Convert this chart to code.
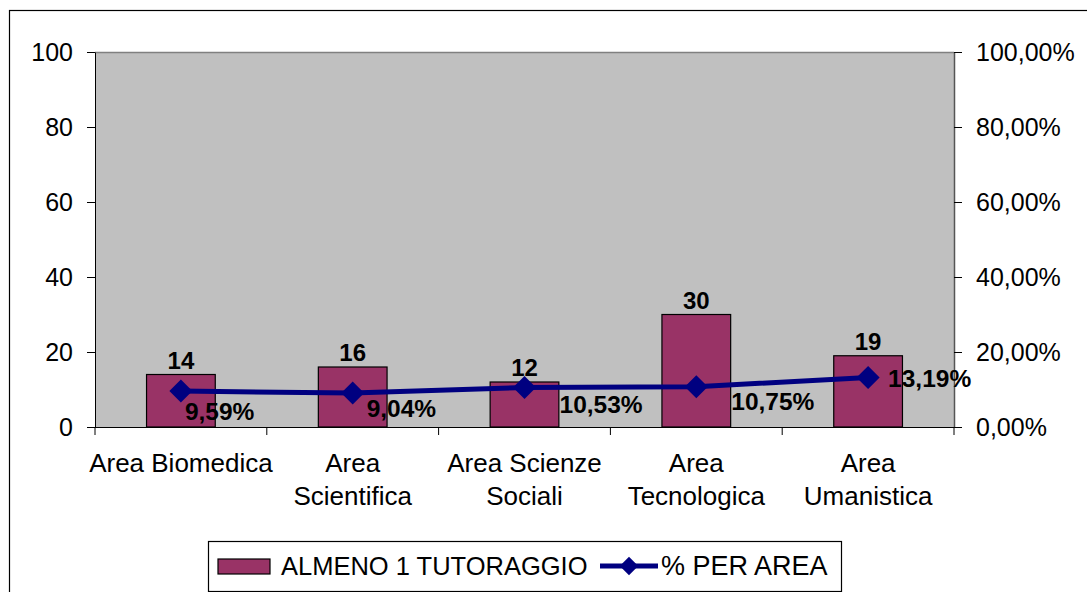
<!doctype html>
<html>
    <head>
        <script src="https://d3js.org/d3.v7.min.js"></script>
        <style>
            body,
            html {
                margin: 0;
                padding: 0;
                overflow: hidden;
                background: #fff;
            }
            text {
                font-family: "Liberation Sans", Arial, sans-serif;
            }
        </style>
    </head>
    <body>
        <script>
            const categories = [
                ["Area Biomedica"],
                ["Area", "Scientifica"],
                ["Area Scienze", "Sociali"],
                ["Area", "Tecnologica"],
                ["Area", "Umanistica"],
            ];
            const tutoraggio = [14, 16, 12, 30, 19];
            const perArea = [0.0959, 0.0904, 0.1053, 0.1075, 0.1319];
            const leftTicks = [0, 20, 40, 60, 80, 100];
            const rightTicks = [0, 0.2, 0.4, 0.6, 0.8, 1];
            const seriesNames = ["ALMENO 1 TUTORAGGIO", "% PER AREA"];

            // label offsets from the marker (moved by hand in the original)
            const pctLabelOffsets = [
                [4, 20],
                [14, 15],
                [35, 17],
                [35, 15],
                [20, 1],
            ];

            const width = 1087;
            const height = 592;
            const plot = { left: 95, right: 954, top: 52, bottom: 427 };
            const fmtPct = (d) => (d * 100).toFixed(2).replace(".", ",") + "%";

            const svg = d3
                .create("svg")
                .attr("width", width)
                .attr("height", height);

            svg.append("rect")
                .attr("x", 9.5)
                .attr("y", 10.5)
                .attr("width", 1090)
                .attr("height", 600)
                .attr("fill", "#fff")
                .attr("stroke", "#000")
                .attr("stroke-width", 1.2);

            const x = d3
                .scaleBand()
                .domain(d3.range(categories.length))
                .range([plot.left, plot.right])
                .paddingInner(0.6)
                .paddingOuter(0.3);
            const xOuter = d3
                .scaleBand()
                .domain(d3.range(categories.length))
                .range([plot.left, plot.right]);
            const y = d3
                .scaleLinear()
                .domain([0, 100])
                .range([plot.bottom, plot.top]);
            const y2 = d3
                .scaleLinear()
                .domain([0, 1])
                .range([plot.bottom, plot.top]);

            // plot background
            svg.append("rect")
                .attr("x", plot.left)
                .attr("y", plot.top)
                .attr("width", plot.right - plot.left)
                .attr("height", plot.bottom - plot.top)
                .attr("fill", "#c0c0c0");
            svg.append("line")
                .attr("x1", plot.left)
                .attr("x2", plot.right)
                .attr("y1", plot.top + 0.5)
                .attr("y2", plot.top + 0.5)
                .attr("stroke", "#808080")
                .attr("stroke-width", 1.5);

            // left axis
            const leftAxis = svg
                .append("g")
                .attr("transform", `translate(${plot.left},0)`)
                .call(
                    d3
                        .axisLeft(y)
                        .tickValues(leftTicks)
                        .tickSize(8)
                        .tickPadding(14)
                        .tickSizeOuter(0)
                );
            // right axis
            const rightAxis = svg
                .append("g")
                .attr("transform", `translate(${plot.right},0)`)
                .call(
                    d3
                        .axisRight(y2)
                        .tickValues(rightTicks)
                        .tickSize(8)
                        .tickPadding(14)
                        .tickSizeOuter(0)
                        .tickFormat(fmtPct)
                );
            [leftAxis, rightAxis].forEach((a) => {
                a.selectAll("text")
                    .attr("font-size", 25)
                    .attr("fill", "#000")
                    .style("font-family", "'Liberation Sans', Arial, sans-serif");
                a.selectAll("line").attr("stroke", "#000");
                a.select(".domain").attr("stroke", "#000");
            });
            rightAxis.select(".domain").attr("stroke", "#555").attr("stroke-width", 1.5);

            // bottom axis with ticks between categories
            const bottom = svg.append("g");
            bottom
                .append("line")
                .attr("x1", plot.left)
                .attr("x2", plot.right)
                .attr("y1", plot.bottom + 0.5)
                .attr("y2", plot.bottom + 0.5)
                .attr("stroke", "#000");
            bottom
                .selectAll("line.tick")
                .data(d3.range(categories.length + 1))
                .join("line")
                .attr("class", "tick")
                .attr("x1", (i) =>
                    i < categories.length ? xOuter(i) : plot.right
                )
                .attr("x2", (i) =>
                    i < categories.length ? xOuter(i) : plot.right
                )
                .attr("y1", plot.bottom)
                .attr("y2", plot.bottom + 8)
                .attr("stroke", "#000");

            const catLabels = bottom
                .selectAll("text.cat")
                .data(categories)
                .join("text")
                .attr("class", "cat")
                .attr("text-anchor", "middle")
                .attr("font-size", 26)
                .attr("x", (d, i) => xOuter(i) + xOuter.bandwidth() / 2)
                .attr("y", 472);
            catLabels
                .selectAll("tspan")
                .data((d) => d)
                .join("tspan")
                .attr("x", function () {
                    return this.parentNode.getAttribute("x");
                })
                .attr("dy", (d, i) => (i === 0 ? 0 : 33))
                .text((d) => d);

            // bars
            svg.append("g")
                .selectAll("rect")
                .data(tutoraggio)
                .join("rect")
                .attr("x", (d, i) => x(i))
                .attr("y", (d) => y(d))
                .attr("width", x.bandwidth())
                .attr("height", (d) => y(0) - y(d))
                .attr("fill", "#993366")
                .attr("stroke", "#000")
                .attr("stroke-width", 1.2);

            svg.append("g")
                .selectAll("text")
                .data(tutoraggio)
                .join("text")
                .attr("x", (d, i) => x(i) + x.bandwidth() / 2)
                .attr("y", (d) => y(d) - 6)
                .attr("text-anchor", "middle")
                .attr("font-size", 24)
                .attr("font-weight", "bold")
                .text((d) => d);

            // line series
            const cx = (i) => xOuter(i) + xOuter.bandwidth() / 2;
            const line = d3
                .line()
                .x((d, i) => cx(i))
                .y((d) => y2(d));
            svg.append("path")
                .datum(perArea)
                .attr("d", line)
                .attr("fill", "none")
                .attr("stroke", "#000080")
                .attr("stroke-width", 5);

            const diamond = d3.symbol().type(d3.symbolSquare).size(265);
            svg.append("g")
                .selectAll("path")
                .data(perArea)
                .join("path")
                .attr("d", diamond)
                .attr(
                    "transform",
                    (d, i) => `translate(${cx(i)},${y2(d)}) rotate(45)`
                )
                .attr("fill", "#000080");

            svg.append("g")
                .selectAll("text")
                .data(perArea)
                .join("text")
                .attr("x", (d, i) => cx(i) + pctLabelOffsets[i][0])
                .attr("y", (d, i) => y2(d) + pctLabelOffsets[i][1])
                .attr("dominant-baseline", "central")
                .attr("font-size", 24.5)
                .attr("font-weight", "bold")
                .text(fmtPct);

            // legend
            const legend = svg.append("g");
            legend
                .append("rect")
                .attr("x", 208.5)
                .attr("y", 541.5)
                .attr("width", 633)
                .attr("height", 50)
                .attr("fill", "#fff")
                .attr("stroke", "#000")
                .attr("stroke-width", 1.2);
            legend
                .append("rect")
                .attr("x", 218)
                .attr("y", 559)
                .attr("width", 52)
                .attr("height", 15)
                .attr("fill", "#993366")
                .attr("stroke", "#000")
                .attr("stroke-width", 1.2);
            legend
                .append("text")
                .attr("x", 281)
                .attr("y", 566)
                .attr("dominant-baseline", "central")
                .attr("font-size", 25.5)
                .text(seriesNames[0]);
            legend
                .append("line")
                .attr("x1", 600)
                .attr("x2", 658)
                .attr("y1", 566)
                .attr("y2", 566)
                .attr("stroke", "#000080")
                .attr("stroke-width", 5);
            legend
                .append("path")
                .attr("d", d3.symbol().type(d3.symbolSquare).size(170))
                .attr("transform", "translate(629,566) rotate(45)")
                .attr("fill", "#000080");
            legend
                .append("text")
                .attr("x", 661)
                .attr("y", 566)
                .attr("dominant-baseline", "central")
                .attr("font-size", 27)
                .text(seriesNames[1]);

            document.body.appendChild(svg.node());
        </script>
    </body>
</html>
